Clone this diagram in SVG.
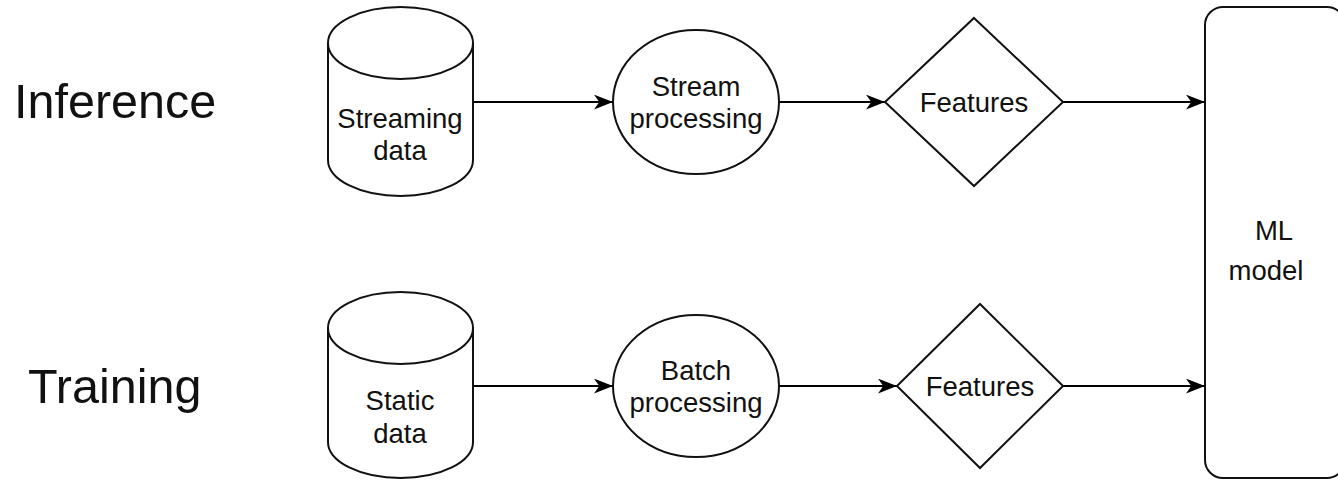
<svg xmlns="http://www.w3.org/2000/svg" width="1338" height="482" viewBox="0 0 1338 482">
  <defs>
    <marker id="arrow" viewBox="0 0 18 14" refX="18" refY="7" markerWidth="19" markerHeight="15" markerUnits="userSpaceOnUse" orient="auto">
      <path d="M0,0 L18,7 L0,14 L5,7 Z" fill="#000"/>
    </marker>
    <style>
      .shape { fill: #fff; stroke: #111; stroke-width: 2; }
      .edge { fill: none; stroke: #000; stroke-width: 2; marker-end: url(#arrow); }
      .lbl { font-family: "Liberation Sans", Arial, sans-serif; font-size: 27.5px; fill: #111; text-anchor: middle; }
      .row { font-family: "Liberation Sans", Arial, sans-serif; font-size: 48.5px; fill: #111; }
    </style>
  </defs>
  <rect width="1338" height="482" fill="#fff"/>

  <!-- row titles -->
  <g id="title-inference"><text class="row" x="14" y="118">Inference</text></g>
  <g id="title-training"><text class="row" x="28" y="403">Training</text></g>

  <!-- connectors -->
  <g id="connectors">
    <line class="edge" x1="473" y1="102" x2="613" y2="102"/>
    <line class="edge" x1="779" y1="102" x2="885" y2="102"/>
    <line class="edge" x1="1063" y1="102" x2="1205" y2="102"/>
    <line class="edge" x1="473" y1="386" x2="613" y2="386"/>
    <line class="edge" x1="779" y1="386" x2="897" y2="386"/>
    <line class="edge" x1="1063" y1="386" x2="1205" y2="386"/>
  </g>

  <!-- top row: inference path -->
  <g id="streaming-data">
    <path class="shape" d="M328,43 V160 A72.5,36 0 0 0 473,160 V43 A72.5,36 0 0 0 328,43 A72.5,36 0 0 0 473,43"/>
    <text class="lbl" x="400" y="128">Streaming</text>
    <text class="lbl" x="400" y="160">data</text>
  </g>
  <g id="stream-processing">
    <ellipse class="shape" cx="696" cy="102" rx="83" ry="72"/>
    <text class="lbl" x="696" y="96">Stream</text>
    <text class="lbl" x="696" y="128">processing</text>
  </g>
  <g id="features-inference">
    <polygon class="shape" points="974,18 1063,102 974,186 885,102"/>
    <text class="lbl" x="974" y="112">Features</text>
  </g>

  <!-- bottom row: training path -->
  <g id="static-data">
    <path class="shape" d="M328,328 V442 A72.5,36 0 0 0 473,442 V328 A72.5,36 0 0 0 328,328 A72.5,36 0 0 0 473,328"/>
    <text class="lbl" x="400" y="410">Static</text>
    <text class="lbl" x="400" y="443">data</text>
  </g>
  <g id="batch-processing">
    <ellipse class="shape" cx="696" cy="386" rx="83" ry="71"/>
    <text class="lbl" x="696" y="380">Batch</text>
    <text class="lbl" x="696" y="412">processing</text>
  </g>
  <g id="features-training">
    <polygon class="shape" points="980,304 1063,386 980,468 897,386"/>
    <text class="lbl" x="980" y="396">Features</text>
  </g>

  <!-- shared model -->
  <g id="ml-model">
    <rect class="shape" x="1205" y="7" width="140" height="471" rx="18" ry="18"/>
    <text class="lbl" x="1274" y="240">ML</text>
    <text class="lbl" x="1266" y="280">model</text>
  </g>
</svg>
